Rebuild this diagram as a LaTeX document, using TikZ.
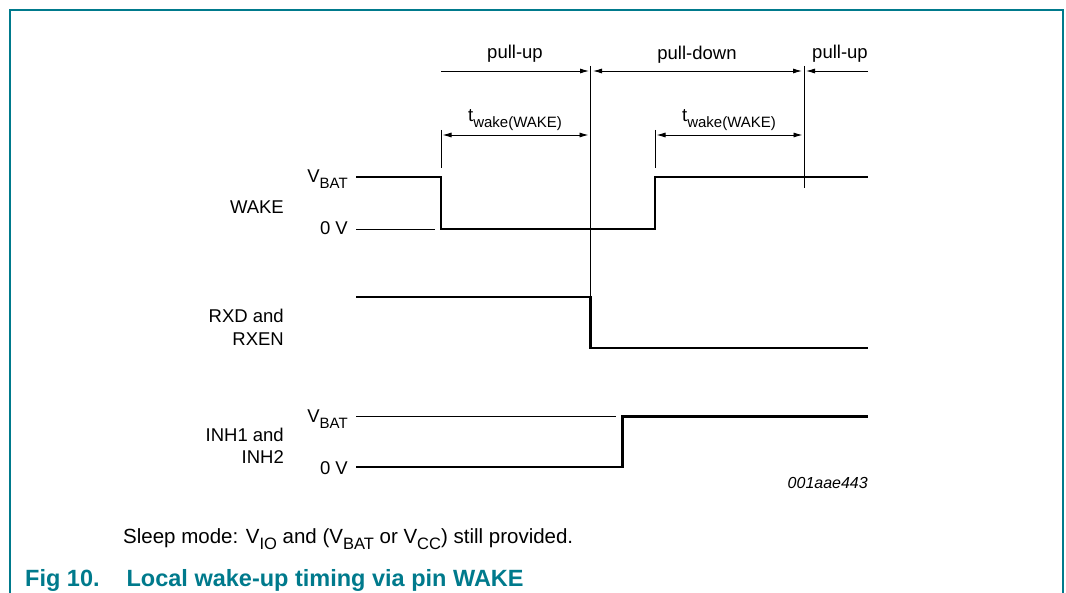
\documentclass[tikz,border=0pt]{standalone}
\usepackage{fontspec}
\setmainfont{Liberation Sans}
\usetikzlibrary{arrows.meta}
\definecolor{nxpteal}{RGB}{0,122,140}
\newcommand{\lowsub}[1]{\raisebox{-0.3em}{\fontsize{15}{16}\selectfont #1}}
\newcommand{\notesub}[1]{\raisebox{-0.3em}{\fontsize{16.5}{17}\selectfont #1}}
\begin{document}
\begin{tikzpicture}[x=1pt,y=-1pt,
  lbl/.style={inner sep=0pt,font=\fontsize{18.5}{21}\selectfont},
  sig/.style={line width=2.6pt,line join=miter,line cap=butt},
  thin/.style={line width=0.9pt},
  dim/.style={line width=0.9pt,{Latex[length=9pt,width=5pt]}-{Latex[length=9pt,width=5pt]}},
  dimr/.style={line width=0.9pt,-{Latex[length=9pt,width=5pt]}},
]
\useasboundingbox (0,0) rectangle (1066,593);
% frame
\draw[nxpteal,line width=2pt] (10,594) -- (10,10) -- (1063,10) -- (1063,594);

% coordinates
\coordinate (pu1s) at (441,71);
\coordinate (pu1e) at (589,71);
\coordinate (v1t) at (590.5,66);
\coordinate (v1b) at (590.5,297);
\coordinate (pds) at (593,71);
\coordinate (pde) at (802,71);
\coordinate (v2t) at (804,66);
\coordinate (v2b) at (804,188);
\coordinate (pu2s) at (868,71);
\coordinate (pu2e) at (806,71);
\coordinate (tk1t) at (441,130);
\coordinate (tk1b) at (441,168);
\coordinate (tk2t) at (655,130);
\coordinate (tk2b) at (655,168);
\coordinate (tw1s) at (441,135);
\coordinate (tw1e) at (590,135);
\coordinate (tw2s) at (655,135);
\coordinate (tw2e) at (804,135);

% top dimension arrows
\draw[dimr] (pu1s) -- (pu1e);
\draw[dim] (pds) -- (pde);
\draw[dimr] (pu2s) -- (pu2e);
\draw[thin] (v1t) -- (v1b);
\draw[thin] (v2t) -- (v2b);
\draw[thin] (tk1t) -- (tk1b);
\draw[thin] (tk2t) -- (tk2b);
\draw[dim,shorten <=1.5pt,shorten >=1.5pt] (tw1s) -- (tw1e);
\draw[dim,shorten <=1.5pt,shorten >=1.5pt] (tw2s) -- (tw2e);

\node[lbl,anchor=base] (lpu1) at (515,59) {pull-up};
\node[lbl,anchor=base] (lpd) at (697,60) {pull-down};
\node[lbl,anchor=base] (lpu2) at (840,59) {pull-up};
\node[lbl,anchor=base] (ltw1) at (515,122) {t\lowsub{wake(WAKE)}};
\node[lbl,anchor=base] (ltw2) at (729,122) {t\lowsub{wake(WAKE)}};

% WAKE
\node[lbl,anchor=base east] (wvbat) at (348,183) {V\lowsub{BAT}};
\node[lbl,anchor=base east] (w0v) at (348,235) {0 V};
\node[lbl,anchor=base east] (wname) at (284,214) {WAKE};
\coordinate (w0) at (356,177);
\coordinate (w1) at (441,177);
\coordinate (w2) at (441,229);
\coordinate (w3) at (655,229);
\coordinate (w4) at (655,177);
\coordinate (w5) at (868,177);
\coordinate (w0va) at (356,229);
\coordinate (w0vb) at (435,229);
\draw[thin] (w0va) -- (w0vb);
\draw[sig] (w0) -- (w1) -- (w2) -- (w3) -- (w4) -- (w5);

% RXD
\node[lbl,anchor=base east] (rxd1) at (284,323) {RXD and};
\node[lbl,anchor=base east] (rxd2) at (284,346) {RXEN};
\coordinate (r0) at (356,297);
\coordinate (r1) at (590.5,297);
\coordinate (r2) at (590.5,348);
\coordinate (r3) at (868,348);
\draw[sig] (r0) -- (r1) -- (r2) -- (r3);

% INH
\node[lbl,anchor=base east] (ivbat) at (348,423) {V\lowsub{BAT}};
\node[lbl,anchor=base east] (i0v) at (348,475) {0 V};
\node[lbl,anchor=base east] (inh1) at (284,442) {INH1 and};
\node[lbl,anchor=base east] (inh2) at (284,464) {INH2};
\coordinate (ivba) at (356,416.5);
\coordinate (ivbb) at (616,416.5);
\draw[thin] (ivba) -- (ivbb);
\coordinate (i0) at (356,467);
\coordinate (i1) at (622.5,467);
\coordinate (i2) at (622.5,416.5);
\coordinate (i3) at (868,416.5);
\draw[sig] (i0) -- (i1) -- (i2) -- (i3);

\node[inner sep=0pt,anchor=base east,font=\fontsize{16}{18}\selectfont\itshape] (code) at (868,489) {001aae443};

\node[inner sep=0pt,anchor=base west,font=\fontsize{20.5}{23}\selectfont] (note) at (123,543) {Sleep mode: V\notesub{IO} and (V\notesub{BAT} or V\notesub{CC}) still provided.};

\node[inner sep=0pt,anchor=base west,text=nxpteal,font=\fontsize{23.5}{26}\selectfont\bfseries] (cap) at (25,586) {Fig 10.\hspace{27pt}Local wake-up timing via pin WAKE};
\end{tikzpicture}
\end{document}
